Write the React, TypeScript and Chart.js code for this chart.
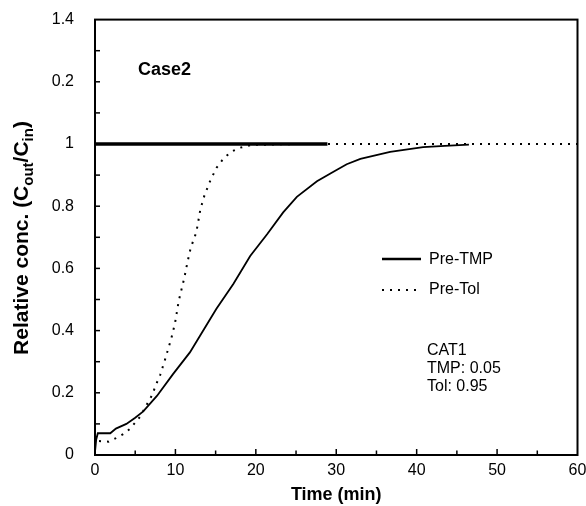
import React, { useEffect, useRef } from "react";
import { Chart, registerables } from "chart.js";

Chart.register(...registerables);

// ---- data ----
const tmpTime = [0, 0.15, 0.35, 1.0, 1.9, 2.6, 3.9, 5.0, 6.0, 7.7, 9.7, 11.8, 13.1, 15.1, 17.2, 19.3, 21.4, 23.4, 25.1, 27.6, 29.6, 31.3, 33.0, 36.7, 40.8, 43.5, 46.5];
const tmpConc = [0.01, 0.05, 0.07, 0.07, 0.07, 0.085, 0.1, 0.12, 0.14, 0.19, 0.26, 0.33, 0.385, 0.47, 0.55, 0.64, 0.71, 0.78, 0.83, 0.88, 0.91, 0.935, 0.952, 0.975, 0.99, 0.994, 0.998];

const tolTime = [0.5, 1.7, 2.6, 3.5, 4.3, 5.0, 5.6, 7.05, 7.7, 8.1, 8.7, 9.5, 9.95, 10.4, 11.1, 11.5, 11.9, 12.6, 13.1, 13.6, 14.3, 15.1, 15.8, 16.4, 17.1, 18.0, 19.5, 25, 30, 40, 50, 60];
const tolConc = [0.045, 0.043, 0.054, 0.067, 0.083, 0.104, 0.123, 0.19, 0.233, 0.257, 0.306, 0.376, 0.424, 0.494, 0.569, 0.62, 0.666, 0.716, 0.789, 0.834, 0.88, 0.923, 0.947, 0.963, 0.977, 0.988, 0.997, 1, 1, 1, 1, 1];

const feedTime = [0, 28.9];
const feedConc = [1, 1];

const seriesNames = ["Pre-TMP", "Pre-Tol"];
const yTickLabels = ["0", "0.2", "0.4", "0.6", "0.8", "1", "0.2", "1.4"];
const yTickMarks = [0.1, 0.2, 0.3, 0.4, 0.5, 0.6, 0.7, 0.8, 0.9, 1.0, 1.1, 1.2, 1.3];
const xTickMarks = [5, 10, 15, 20, 25, 30, 35, 40, 45, 50, 55];
const caseLabel = "Case2";
const noteLines = ["CAT1", "TMP: 0.05", "Tol: 0.95"];
const xTitle = "Time (min)";
const yTitleParts = [
  { t: "Relative conc. (C", sub: false },
  { t: "out", sub: true },
  { t: "/C", sub: false },
  { t: "in", sub: true },
  { t: ")", sub: false },
];

const FONT = "'Liberation Sans', Arial, sans-serif";
const DOT_DASH = [2, 6];

const toPts = (xs: number[], ys: number[]) => xs.map((x, i) => ({ x, y: ys[i] }));

const decorPlugin = {
  id: "decor",
  afterDatasetsDraw(chart: any) {
    const { ctx, chartArea: a, scales } = chart;
    const xs = scales.x;
    const ys = scales.y;
    ctx.save();
    ctx.strokeStyle = "#000";
    ctx.fillStyle = "#000";

    // inner tick marks
    ctx.lineWidth = 1.5;
    ctx.setLineDash([]);
    yTickMarks.forEach((v) => {
      const py = ys.getPixelForValue(v);
      ctx.beginPath();
      ctx.moveTo(a.left, py);
      ctx.lineTo(a.left + 5, py);
      ctx.stroke();
    });
    xTickMarks.forEach((v) => {
      const px = xs.getPixelForValue(v);
      const len = v % 10 === 0 ? 6 : 4.5;
      ctx.beginPath();
      ctx.moveTo(px, a.bottom);
      ctx.lineTo(px, a.bottom - len);
      ctx.stroke();
    });

    // box
    ctx.lineWidth = 2;
    ctx.strokeRect(a.left, a.top, a.right - a.left, a.bottom - a.top);

    // legend
    ctx.lineWidth = 2.5;
    ctx.beginPath();
    ctx.moveTo(382, 259);
    ctx.lineTo(421, 259);
    ctx.stroke();
    ctx.lineWidth = 2;
    ctx.setLineDash(DOT_DASH);
    ctx.beginPath();
    ctx.moveTo(382, 290);
    ctx.lineTo(421, 290);
    ctx.stroke();
    ctx.setLineDash([]);
    ctx.font = `16px ${FONT}`;
    ctx.textAlign = "left";
    ctx.textBaseline = "middle";
    ctx.fillText(seriesNames[0], 429, 260);
    ctx.fillText(seriesNames[1], 429, 290);

    // notes
    noteLines.forEach((s, i) => ctx.fillText(s, 427, 351 + i * 18));

    ctx.font = `bold 18px ${FONT}`;
    ctx.fillText(caseLabel, 138, 70);

    // y title with subscripts
    ctx.save();
    ctx.translate(28, 238);
    ctx.rotate(-Math.PI / 2);
    ctx.textBaseline = "alphabetic";
    const mainFont = `bold 21px ${FONT}`;
    const subFont = `bold 15px ${FONT}`;
    let total = 0;
    yTitleParts.forEach((p) => {
      ctx.font = p.sub ? subFont : mainFont;
      total += ctx.measureText(p.t).width;
    });
    let cx = -total / 2;
    yTitleParts.forEach((p) => {
      ctx.font = p.sub ? subFont : mainFont;
      ctx.fillText(p.t, cx, p.sub ? 5 : 0);
      cx += ctx.measureText(p.t).width;
    });
    ctx.restore();

    ctx.restore();
  },
};

export default function App() {
  const ref = useRef<HTMLCanvasElement | null>(null);

  useEffect(() => {
    if (!ref.current) return;
    const chart = new Chart(ref.current, {
      type: "line",
      data: {
        datasets: [
          {
            label: seriesNames[1],
            data: toPts(tolTime, tolConc),
            borderColor: "#000",
            borderWidth: 2,
            borderDash: DOT_DASH,
            pointRadius: 0,
            fill: false,
            tension: 0,
          },
          {
            label: seriesNames[0],
            data: toPts(tmpTime, tmpConc),
            borderColor: "#000",
            borderWidth: 1.8,
            pointRadius: 0,
            fill: false,
            tension: 0,
          },
          {
            label: seriesNames[0] + " feed",
            data: toPts(feedTime, feedConc),
            borderColor: "#000",
            borderWidth: 3.5,
            pointRadius: 0,
            fill: false,
          },
        ],
      },
      options: {
        responsive: false,
        animation: false,
        devicePixelRatio: 1,
        layout: { padding: { top: 19.6, right: 8.5, left: 0, bottom: 0 } },
        plugins: { legend: { display: false }, tooltip: { enabled: false } },
        scales: {
          x: {
            type: "linear",
            min: 0,
            max: 60,
            ticks: {
              stepSize: 10,
              color: "#000",
              padding: 6,
              font: { family: FONT, size: 16 },
            },
            grid: { display: false, drawTicks: false },
            border: { display: false },
            title: {
              display: true,
              text: xTitle,
              color: "#000",
              font: { family: FONT, size: 18, weight: "bold" },
              padding: { top: 0, bottom: 0 },
            },
            afterFit: (s: any) => {
              s.height = 51;
              s.paddingLeft = 0;
              s.paddingRight = 0;
            },
          },
          y: {
            type: "linear",
            min: 0,
            max: 1.4,
            ticks: {
              stepSize: 0.2,
              color: "#000",
              padding: 21,
              font: { family: FONT, size: 16 },
              callback: (_v: any, i: number) => yTickLabels[i],
            },
            grid: { display: false, drawTicks: false },
            border: { display: false },
            afterFit: (s: any) => {
              s.width = 95;
              s.paddingTop = 0;
              s.paddingBottom = 0;
            },
          },
        },
      },
      plugins: [decorPlugin],
    } as any);
    return () => chart.destroy();
  }, []);

  return (
    <div style={{ position: "fixed", left: 0, top: 0, width: 586, height: 506, background: "#fff" }}>
      <canvas ref={ref} width={586} height={506} style={{ width: 586, height: 506, display: "block" }} />
    </div>
  );
}
